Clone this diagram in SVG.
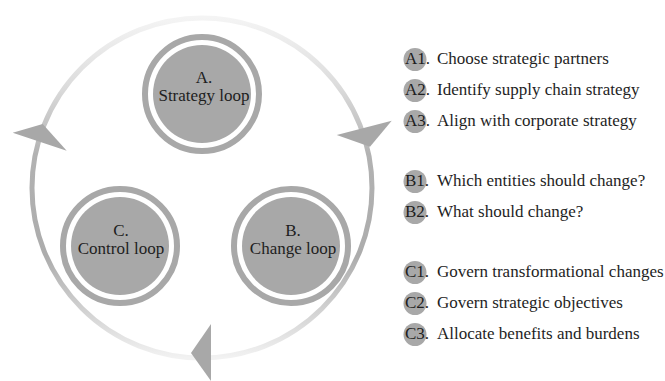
<svg xmlns="http://www.w3.org/2000/svg" width="665" height="381" viewBox="0 0 665 381">
  <style>
    text { font-family: "Liberation Serif", "Times New Roman", serif; font-size: 17px; fill: #1e1e1e; }
    .ring { fill: none; stroke: #a8a8a8; stroke-width: 6; }
    .core { fill: #a8a8a8; }
    .mid { text-anchor: middle; }
    .bullet { fill: #a8a8a8; }
    .head { fill: #a8a8a8; }
  </style>
  <defs>
    <linearGradient id="cycleGrad" gradientUnits="userSpaceOnUse" x1="0" y1="18" x2="0" y2="358">
      <stop offset="0" stop-color="#f4f4f4"/>
      <stop offset="0.2" stop-color="#dcdcdc"/>
      <stop offset="0.4" stop-color="#b2b2b2"/>
      <stop offset="0.7" stop-color="#acacac"/>
      <stop offset="0.88" stop-color="#d6d6d6"/>
      <stop offset="1" stop-color="#f2f2f2"/>
    </linearGradient>
  </defs>
  <rect width="665" height="381" fill="#ffffff"/>

  <g id="connectors">
    <circle cx="202" cy="188" r="170" fill="none" stroke="url(#cycleGrad)" stroke-width="5"/>
    <polygon class="head" points="12.7,132.7 42.7,124 66.7,150.7"/>
    <polygon class="head" points="336.7,135 391.7,120.7 370,146.7"/>
    <polygon class="head" points="211,324 211,381 191,353"/>
  </g>

  <g id="node-A">
    <circle class="ring" cx="202" cy="94" r="57"/>
    <circle class="core" cx="202" cy="94" r="49"/>
    <text class="mid" x="204" y="83">A.</text>
    <text class="mid" x="204" y="101">Strategy loop</text>
  </g>
  <g id="node-B">
    <circle class="ring" cx="291" cy="246" r="57"/>
    <circle class="core" cx="291" cy="246" r="49"/>
    <text class="mid" x="293" y="236">B.</text>
    <text class="mid" x="293" y="254">Change loop</text>
  </g>
  <g id="node-C">
    <circle class="ring" cx="120" cy="246" r="57"/>
    <circle class="core" cx="120" cy="246" r="49"/>
    <text class="mid" x="121" y="236">C.</text>
    <text class="mid" x="121" y="254">Control loop</text>
  </g>

  <g id="legend-A1">
    <circle class="bullet" cx="415" cy="59.5" r="11.5"/>
    <text x="405" y="64">A1.</text>
    <text x="437" y="64">Choose strategic partners</text>
  </g>
  <g id="legend-A2">
    <circle class="bullet" cx="415" cy="90.5" r="11.5"/>
    <text x="405" y="95">A2.</text>
    <text x="437" y="95">Identify supply chain strategy</text>
  </g>
  <g id="legend-A3">
    <circle class="bullet" cx="415" cy="121.5" r="11.5"/>
    <text x="405" y="126">A3.</text>
    <text x="437" y="126">Align with corporate strategy</text>
  </g>
  <g id="legend-B1">
    <circle class="bullet" cx="415" cy="181.5" r="11.5"/>
    <text x="405" y="186">B1.</text>
    <text x="437" y="186">Which entities should change?</text>
  </g>
  <g id="legend-B2">
    <circle class="bullet" cx="415" cy="212.5" r="11.5"/>
    <text x="405" y="217">B2.</text>
    <text x="437" y="217">What should change?</text>
  </g>
  <g id="legend-C1">
    <circle class="bullet" cx="415" cy="272.5" r="11.5"/>
    <text x="405" y="277">C1.</text>
    <text x="437" y="277">Govern transformational changes</text>
  </g>
  <g id="legend-C2">
    <circle class="bullet" cx="415" cy="303.5" r="11.5"/>
    <text x="405" y="308">C2.</text>
    <text x="437" y="308">Govern strategic objectives</text>
  </g>
  <g id="legend-C3">
    <circle class="bullet" cx="415" cy="334.5" r="11.5"/>
    <text x="405" y="339">C3.</text>
    <text x="437" y="339">Allocate benefits and burdens</text>
  </g>
</svg>
